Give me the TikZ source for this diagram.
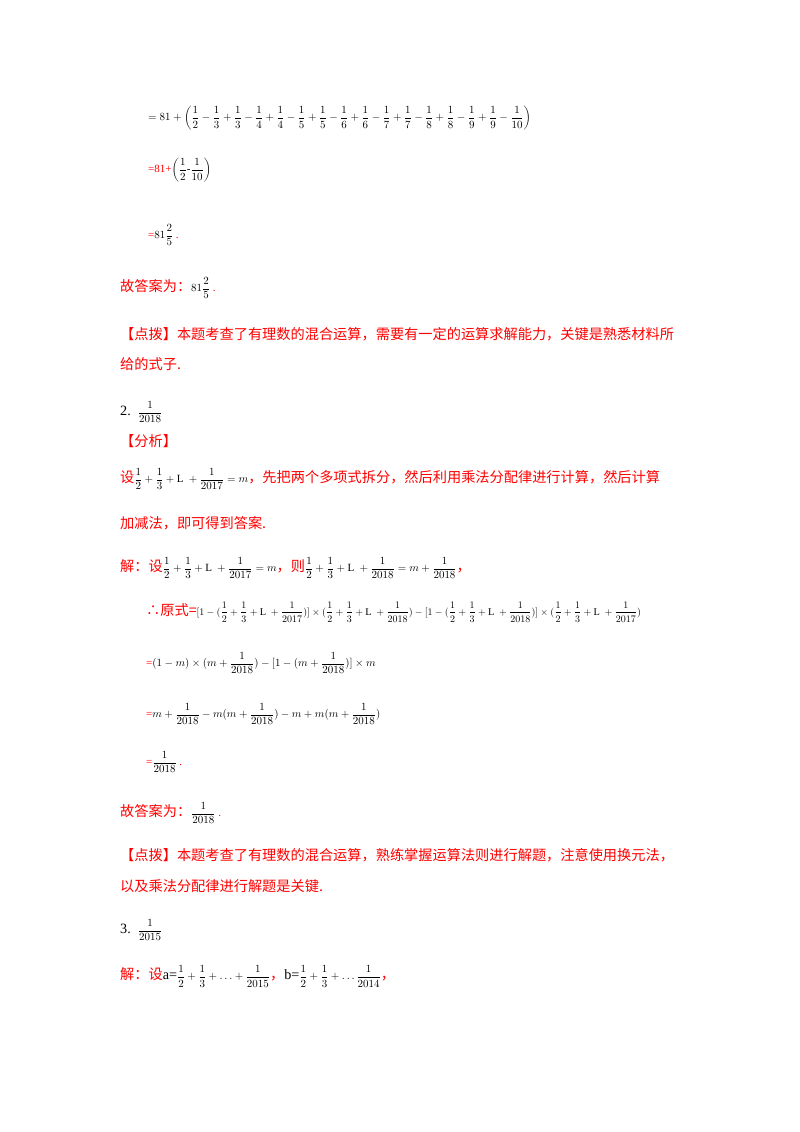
\documentclass[tikz,border=0pt]{standalone}
\usepackage{fontspec}
\setmainfont{Liberation Serif}
\newfontfamily\cjk{Noto Sans CJK SC}
\everymath{\displaystyle}
\begin{document}
\begin{tikzpicture}[x=1pt,y=1pt]
\useasboundingbox (0,0) rectangle (800,-1132);
\tikzset{t/.style={anchor=west,inner sep=0pt,font=\fontsize{14.2}{18}\selectfont},
 r/.style={t,text=red}, m/.style={anchor=west,inner sep=0pt,font=\fontsize{11}{14}\selectfont}}
\node[m] (l1) at (148,-118) {$=81+\left(\frac{1}{2}-\frac{1}{3}+\frac{1}{3}-\frac{1}{4}+\frac{1}{4}-\frac{1}{5}+\frac{1}{5}-\frac{1}{6}+\frac{1}{6}-\frac{1}{7}+\frac{1}{7}-\frac{1}{8}+\frac{1}{8}-\frac{1}{9}+\frac{1}{9}-\frac{1}{10}\right)$};
\node[m] (l2) at (148,-170) {\textcolor{red}{=81+}$\left(\frac{1}{2}\mbox{-}\frac{1}{10}\right)$};
\node[m] (l3) at (148,-235) {\textcolor{red}{=}$81\frac{2}{5}$\ \textcolor{red}{.}};
\node[r] (l4) at (120,-288) {{\cjk 故答案为：}\fontsize{11}{14}\selectfont\color{black}$81\frac{2}{5}$\ \textcolor{red}{.}};
\node[r] (l5) at (120,-334) {{\cjk 【点拨】本题考查了有理数的混合运算，需要有一定的运算求解能力，关键是熟悉材料所}};
\node[r] (l6) at (120,-364) {{\cjk 给的式子.}};
\node[t] (l7) at (120,-412) {2.\ \ \fontsize{11}{14}\selectfont$\frac{1}{2018}$};
\node[r] (l8) at (120,-441) {{\cjk 【分析】}};
\node[r] (l9) at (120,-479) {{\cjk 设}\color{black}\fontsize{11}{14}\selectfont$\frac{1}{2}+\frac{1}{3}+\mathrm{L}\ +\frac{1}{2017}=m$\color{red}\fontsize{14.2}{18}\selectfont{\cjk ，先把两个多项式拆分，然后利用乘法分配律进行计算，然后计算}};
\node[r] (l10) at (120,-523) {{\cjk 加减法，即可得到答案.}};
\node[r] (l11) at (120,-568) {{\cjk 解：设}\color{black}\fontsize{11}{14}\selectfont$\frac{1}{2}+\frac{1}{3}+\mathrm{L}\ +\frac{1}{2017}=m$\color{red}\fontsize{14.2}{18}\selectfont{\cjk ，则}\color{black}\fontsize{11}{14}\selectfont$\frac{1}{2}+\frac{1}{3}+\mathrm{L}\ +\frac{1}{2018}=m+\frac{1}{2018}$\color{red}\fontsize{14.2}{18}\selectfont{\cjk ，}};
\node[r] (l12) at (146,-612) {{\cjk ∴原式=}\color{black}\fontsize{10.3}{12}\selectfont$[1-(\frac{1}{2}+\frac{1}{3}+\mathrm{L}\ +\frac{1}{2017})]\times(\frac{1}{2}+\frac{1}{3}+\mathrm{L}\ +\frac{1}{2018})-[1-(\frac{1}{2}+\frac{1}{3}+\mathrm{L}\ +\frac{1}{2018})]\times(\frac{1}{2}+\frac{1}{3}+\mathrm{L}\ +\frac{1}{2017})$};
\node[m] (l13) at (146,-663) {\textcolor{red}{=}$(1-m)\times(m+\frac{1}{2018})-[1-(m+\frac{1}{2018})]\times m$};
\node[m] (l14) at (146,-714) {\textcolor{red}{=}$m+\frac{1}{2018}-m(m+\frac{1}{2018})-m+m(m+\frac{1}{2018})$};
\node[m] (l15) at (146,-762) {\textcolor{red}{=}$\frac{1}{2018}$\ \textcolor{red}{.}};
\node[r] (l16) at (120,-813) {{\cjk 故答案为：}\fontsize{11}{14}\selectfont\color{black}$\frac{1}{2018}$\ \textcolor{red}{.}};
\node[r] (l17) at (120,-855) {{\cjk 【点拨】本题考查了有理数的混合运算，熟练掌握运算法则进行解题，注意使用换元法，}};
\node[r] (l18) at (120,-886) {{\cjk 以及乘法分配律进行解题是关键.}};
\node[t] (l19) at (120,-930) {3.\ \ \fontsize{11}{14}\selectfont$\frac{1}{2015}$};
\node[r] (l20) at (120,-976) {{\cjk 解：设}\color{black}a=\fontsize{11}{14}\selectfont$\frac{1}{2}+\frac{1}{3}+\ldots+\frac{1}{2015}$\color{red}\fontsize{14.2}{18}\selectfont{\cjk ，}\color{black}b=\fontsize{11}{14}\selectfont$\frac{1}{2}+\frac{1}{3}+\ldots\frac{1}{2014}$\color{red}\fontsize{14.2}{18}\selectfont{\cjk ，}};
\end{tikzpicture}
\end{document}
